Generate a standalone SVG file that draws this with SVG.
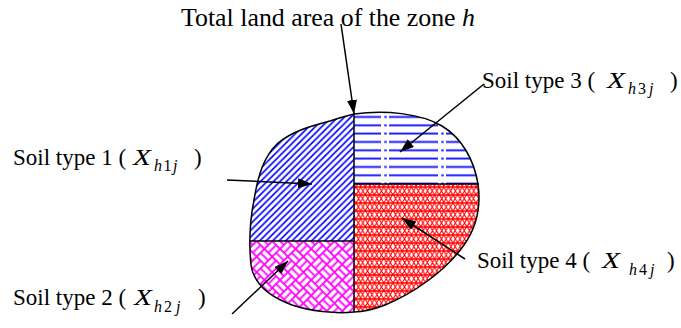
<svg xmlns="http://www.w3.org/2000/svg" width="681" height="328" viewBox="0 0 681 328" font-family="'Liberation Serif', 'Times New Roman', serif">
<style>
text { font-family: "Liberation Serif", "Times New Roman", serif; fill: #000; }
.lab { font-size: 23px; }
.x { font-size: 24px; font-style: italic; }
.sub { font-size: 16px; }
.it { font-style: italic; }
.conn line { stroke: #000; stroke-width: 1.5; fill: none; marker-end: url(#ah); }
.div { stroke: #000; stroke-width: 1.5; fill: none; }
</style>
<defs>
<marker id="ah" markerUnits="userSpaceOnUse" markerWidth="15" markerHeight="11" refX="14" refY="5" orient="auto" viewBox="0 0 15 11">
<path d="M0,0 L14,5 L0,10 Z" fill="#000"/>
</marker>
<clipPath id="blobclip">
<path id="blobpath" d="M354,114 C385,110 420,113 442,126 C462,138 474,160 478,184 C481,205 478,225 464,245 C445,272 412,294 385,305 C372,310 362,312 354,312 C335,314 310,311 292,305 C270,297 254,285 251,265 C249,245 250,220 254,200 C258,175 264,156 278,143 C294,130 315,125 330,121 C342,117 350,115 354,114 Z"/>
</clipPath>
<pattern id="diag" patternUnits="userSpaceOnUse" width="6.5" height="6.5">
<rect width="6.5" height="6.5" fill="#fff"/>
<path d="M-1,7.5 L7.5,-1 M-1,1 L1,-1 M5.5,7.5 L7.5,5.5" stroke="#0000ff" stroke-width="1.6"/>
</pattern>
<pattern id="horiz" patternUnits="userSpaceOnUse" x="381" y="112.8" width="57" height="8.33">
<rect width="57" height="8.33" fill="#fff"/>
<path d="M3.3,4.17 H5.7 M8,4.17 H57" stroke="#1010ff" stroke-width="1.9"/>
</pattern>
<pattern id="weave" patternUnits="userSpaceOnUse" width="22" height="22" patternTransform="rotate(45)">
<rect width="22" height="22" fill="#ff00ff"/>
<g fill="#fff">
<rect x="0.9" y="0.9" width="9.2" height="3.7"/>
<rect x="0.9" y="6.4" width="9.2" height="3.7"/>
<rect x="11.9" y="0.9" width="3.7" height="9.2"/>
<rect x="17.4" y="0.9" width="3.7" height="9.2"/>
<rect x="0.9" y="11.9" width="3.7" height="9.2"/>
<rect x="6.4" y="11.9" width="3.7" height="9.2"/>
<rect x="11.9" y="11.9" width="9.2" height="3.7"/>
<rect x="11.9" y="17.4" width="9.2" height="3.7"/>
</g>
</pattern>
<pattern id="tri" patternUnits="userSpaceOnUse" x="356" y="187" width="9.24" height="16">
<rect width="9.24" height="16" fill="#fff"/>
<path d="M-1,0 H10.24 M-1,8 H10.24 M-1,16 H10.24" stroke="#ff0000" stroke-width="1.6"/>
<path d="M-0.5,-1 L9.74,17 M9.74,-1 L-0.5,17 M4.12,-1 L14.4,17 M5.12,-1 L-5.2,17 M-4.6,-1 L5.6,17 M13.8,-1 L3.6,17" stroke="#ff0000" stroke-width="1.05"/>
</pattern>
</defs>

<g id="zone">
<g clip-path="url(#blobclip)">
<rect id="q1" x="240" y="100" width="114" height="141" fill="url(#diag)"/>
<rect id="q3" x="354" y="100" width="136" height="84" fill="url(#horiz)"/>
<rect id="q2" x="240" y="241" width="114" height="80" fill="url(#weave)"/>
<rect id="q4" x="354" y="184" width="136" height="137" fill="url(#tri)"/>
</g>
<use href="#blobpath" fill="none" stroke="#000" stroke-width="1.5"/>
<path class="div" d="M354,114 V312 M250,241 H354 M354,184 H479"/>
</g>

<g id="label-total">
<text x="181" y="26" font-size="25.5" textLength="294" lengthAdjust="spacingAndGlyphs">Total land area of the zone <tspan class="it">h</tspan></text>
</g>

<g id="label-soil1">
<text x="13" y="165" class="lab">Soil type 1 (</text>
<text x="133" y="165" class="x" textLength="18" lengthAdjust="spacingAndGlyphs">X</text>
<text y="171" class="sub"><tspan x="154" class="it">h</tspan><tspan x="163.5">1</tspan><tspan x="173" class="it">j</tspan></text>
<text x="194" y="165" class="lab">)</text>
</g>

<g id="label-soil2">
<text x="13" y="305" class="lab">Soil type 2 (</text>
<text x="134" y="305" class="x" textLength="18" lengthAdjust="spacingAndGlyphs">X</text>
<text y="312" class="sub"><tspan x="154" class="it">h</tspan><tspan x="164">2</tspan><tspan x="176" class="it">j</tspan></text>
<text x="198" y="305" class="lab">)</text>
</g>

<g id="label-soil3">
<text x="482" y="88" class="lab">Soil type 3 (</text>
<text x="607" y="88" class="x" textLength="18" lengthAdjust="spacingAndGlyphs">X</text>
<text y="94" class="sub"><tspan x="628" class="it">h</tspan><tspan x="638">3</tspan><tspan x="649" class="it">j</tspan></text>
<text x="670" y="88" class="lab">)</text>
</g>

<g id="label-soil4">
<text x="477" y="268" class="lab">Soil type 4 (</text>
<text x="602" y="268" class="x" textLength="18" lengthAdjust="spacingAndGlyphs">X</text>
<text y="275" class="sub"><tspan x="629" class="it">h</tspan><tspan x="639">4</tspan><tspan x="650" class="it">j</tspan></text>
<text x="667" y="268" class="lab">)</text>
</g>

<g id="connectors" class="conn">
<line x1="341" y1="24" x2="354" y2="114"/>
<line x1="484" y1="84" x2="400" y2="152"/>
<line x1="227" y1="180" x2="312" y2="184"/>
<line x1="232" y1="314" x2="288" y2="261"/>
<line x1="465" y1="259" x2="402" y2="218"/>
</g>
</svg>
